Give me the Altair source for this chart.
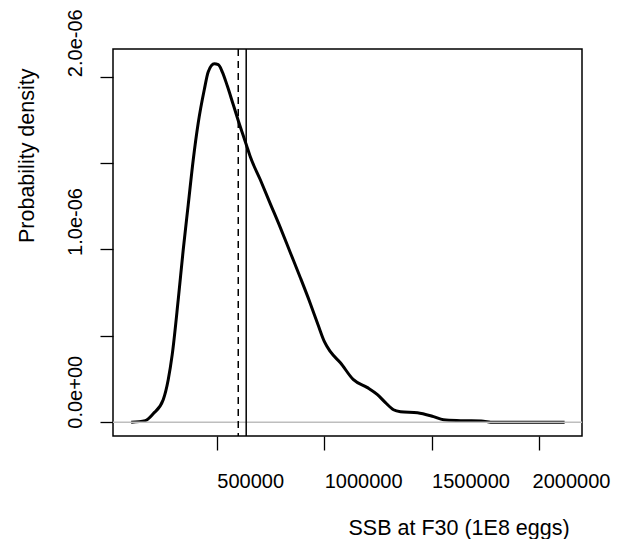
import altair as alt
import pandas as pd

# Density curve
ssb = [101600, 166800, 204100, 250700, 274000, 292600, 320600, 343900, 367200,
       390500, 413800, 441800, 460400, 488400, 507000, 525600, 548900, 576900,
       600200, 618800, 637500, 656100, 702700, 749300, 795900, 842500, 889100,
       935700, 973000, 1001000, 1028900, 1075500, 1136100, 1201300, 1247900,
       1285200, 1322500, 1355100, 1434300, 1508900, 1555500, 1634700, 1741900,
       1774500, 2119000]
density = [0.0, 0.009e-6, 0.049e-6, 0.130e-6, 0.246e-6, 0.391e-6, 0.709e-6,
           0.998e-6, 1.259e-6, 1.519e-6, 1.733e-6, 1.924e-6, 2.028e-6, 2.074e-6,
           2.069e-6, 2.028e-6, 1.947e-6, 1.837e-6, 1.745e-6, 1.675e-6, 1.606e-6,
           1.536e-6, 1.403e-6, 1.264e-6, 1.126e-6, 0.981e-6, 0.836e-6, 0.686e-6,
           0.558e-6, 0.466e-6, 0.408e-6, 0.344e-6, 0.246e-6, 0.200e-6, 0.159e-6,
           0.113e-6, 0.072e-6, 0.061e-6, 0.055e-6, 0.032e-6, 0.014e-6, 0.009e-6,
           0.006e-6, 0.0, 0.0]

dashed_ref = [600000]
solid_ref = [637000]

x_ticks = [500000, 1000000, 1500000, 2000000]
y_ticks = [0.0, 0.5e-6, 1.0e-6, 1.5e-6, 2.0e-6]
y_tick_labels = ["0.0e+00", "", "1.0e-06", "", "2.0e-06"]

x_domain = [17000, 2200000]
y_domain = [-0.08e-6, 2.16e-6]

FONT = "Liberation Sans"

df = pd.DataFrame({"ssb": ssb, "density": density})

# label expression built from the tick label list
expr = "''"
for v, lab in zip(y_ticks, y_tick_labels):
    expr = f"abs(datum.value - {v}) < 1e-9 ? '{lab}' : ({expr})"

x_scale = alt.Scale(domain=x_domain, nice=False, zero=False)
y_scale = alt.Scale(domain=y_domain, nice=False, zero=False)

x_axis = alt.Axis(
    values=x_ticks, format="d", grid=False, domain=False,
    tickColor="black", tickSize=14, tickWidth=1.3,
    labelFont=FONT, labelFontSize=20, labelColor="black",
    labelAlign="left", labelBaseline="alphabetic", labelPadding=37,
    labelOffset={"condition": {"test": f"datum.value == {x_ticks[-1]}", "value": -7}, "value": 0},
    labelFlush=False, labelOverlap=False, labelBound=False,
    title="SSB at F30 (1E8 eggs)", titleFont=FONT, titleFontSize=21.5,
    titleFontWeight="normal", titleColor="black", titleAlign="left",
    titleBaseline="alphabetic", titleX=235, titleY=98,
)
y_axis = alt.Axis(
    values=y_ticks, labelExpr=expr, grid=False, domain=False,
    tickColor="black", tickSize=13, tickWidth=1.3,
    labelFont=FONT, labelFontSize=20, labelColor="black",
    labelAngle=270, labelAlign="left", labelBaseline="alphabetic",
    labelPadding=18.5,
    labelOffset={"condition": {"test": f"datum.value > {y_ticks[-2]}", "value": 0}, "value": 6},
    labelFlush=False, labelOverlap=False, labelBound=False,
    title="Probability density", titleFont=FONT, titleFontSize=21.5,
    titleFontWeight="normal", titleColor="black", titleAngle=270,
    titleAlign="left", titleBaseline="alphabetic", titleX=-80, titleY=193.5,
)

curve = alt.Chart(df).mark_line(color="black", strokeWidth=3, interpolate="monotone").encode(
    x=alt.X("ssb:Q", scale=x_scale, axis=x_axis),
    y=alt.Y("density:Q", scale=y_scale, axis=y_axis),
)

zero_line = alt.Chart(pd.DataFrame({"y": [0.0]})).mark_rule(
    color="#bebebe", strokeWidth=1.5
).encode(y=alt.Y("y:Q", scale=y_scale))

dashed = alt.Chart(pd.DataFrame({"x": dashed_ref})).mark_rule(
    color="black", strokeWidth=1.5, strokeDash=[7, 5]
).encode(x=alt.X("x:Q", scale=x_scale))

solid = alt.Chart(pd.DataFrame({"x": solid_ref})).mark_rule(
    color="black", strokeWidth=1.5
).encode(x=alt.X("x:Q", scale=x_scale))

chart = alt.layer(curve, zero_line, dashed, solid).properties(
    width=469, height=387,
    padding={"left": 105, "top": 41, "right": 29, "bottom": 103},
    autosize=alt.AutoSizeParams(type="none"),
).configure_view(stroke="black", strokeWidth=1.5)

chart.save("out.html", embed_options={"renderer": "svg", "actions": False})
